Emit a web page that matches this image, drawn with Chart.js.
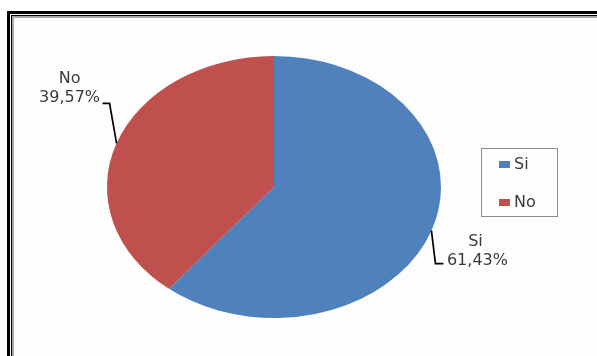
<!DOCTYPE html>
<html>
<head>
<meta charset="utf-8">
<script src="https://cdn.jsdelivr.net/npm/chart.js@4/dist/chart.umd.min.js"></script>
<style>
  html, body { margin: 0; padding: 0; background: #ffffff; }
  #wrap { position: relative; width: 597px; height: 356px; }
</style>
</head>
<body>
<div id="wrap"><canvas id="c" width="597" height="356"></canvas></div>
<script>
const categories = ['Si', 'No'];
const values = [61.43, 39.57];
const valueLabels = ['61,43%', '39,57%'];
const colors = ['#4F81BD', '#C0504D'];

const FONT = '16px "DejaVu Sans", sans-serif';
const TEXT = '#3a3a3a';
const SX = 167 / 131; // horizontal stretch of the pie

const framePlugin = {
  id: 'frame',
  beforeDraw(chart) {
    const ctx = chart.ctx;
    ctx.save();
    ctx.fillStyle = '#ffffff'; ctx.fillRect(0, 0, 597, 356);
    ctx.fillStyle = '#000000'; ctx.fillRect(7, 11, 700, 500);
    ctx.fillStyle = '#ffffff'; ctx.fillRect(10, 14, 700, 500);
    ctx.fillStyle = '#000000'; ctx.fillRect(11, 15, 700, 500);
    ctx.fillStyle = '#a8a8a8'; ctx.fillRect(12, 16, 700, 500);
    ctx.fillStyle = '#fdfdfd'; ctx.fillRect(14, 18, 700, 500);
    ctx.restore();
  }
};

const ellipsePlugin = {
  id: 'ellipse',
  beforeDatasetsDraw(chart) {
    const a = chart.chartArea, ctx = chart.ctx;
    const cx = (a.left + a.right) / 2, cy = (a.top + a.bottom) / 2;
    ctx.save();
    ctx.translate(cx, cy); ctx.scale(SX, 1); ctx.translate(-cx, -cy);
  },
  afterDatasetsDraw(chart) {
    chart.ctx.restore();
  }
};

const labelPlugin = {
  id: 'labels',
  afterDraw(chart) {
    const ctx = chart.ctx;
    const meta = chart.getDatasetMeta(0);
    ctx.save();
    ctx.font = FONT;
    ctx.fillStyle = TEXT;
    ctx.strokeStyle = '#000000';
    ctx.lineWidth = 1.7;
    ctx.textAlign = 'center';
    ctx.textBaseline = 'middle';
    meta.data.forEach((arc, i) => {
      const mid = (arc.startAngle + arc.endAngle) / 2;
      const ax = arc.x + Math.cos(mid) * arc.outerRadius * SX;
      const ay = arc.y + Math.sin(mid) * arc.outerRadius;
      ctx.beginPath();
      if (ax > arc.x) {
        ctx.moveTo(ax, ay);
        ctx.lineTo(ax + 4, ay + 33);
        ctx.lineTo(ax + 12, ay + 33);
        ctx.stroke();
        ctx.fillText(categories[i], ax + 44, ay + 11);
        ctx.fillText(valueLabels[i], ax + 46, ay + 30);
      } else {
        ctx.moveTo(ax, ay);
        ctx.lineTo(ax - 7, ay - 40);
        ctx.lineTo(ax - 14, ay - 40);
        ctx.stroke();
        ctx.fillText(categories[i], ax - 47, ay - 64);
        ctx.fillText(valueLabels[i], ax - 47, ay - 45);
      }
    });
    // legend
    ctx.strokeStyle = '#8c8c8c';
    ctx.lineWidth = 1;
    ctx.strokeRect(481.5, 148.5, 76, 68);
    ctx.textAlign = 'left';
    categories.forEach((c, i) => {
      const y = 164 + i * 38;
      ctx.fillStyle = colors[i];
      ctx.fillRect(499, y - 3, 11, 7);
      ctx.fillStyle = TEXT;
      ctx.fillText(c, 514, y + 1);
    });
    ctx.restore();
  }
};

new Chart(document.getElementById('c'), {
  type: 'pie',
  data: {
    labels: categories,
    datasets: [{
      data: values,
      backgroundColor: colors,
      borderWidth: 0
    }]
  },
  options: {
    responsive: false,
    animation: false,
    layout: { padding: { left: 143, right: 192, top: 56, bottom: 38 } },
    plugins: {
      legend: { display: false },
      tooltip: { enabled: false },
      title: { display: false }
    }
  },
  plugins: [framePlugin, ellipsePlugin, labelPlugin]
});
</script>
</body>
</html>
